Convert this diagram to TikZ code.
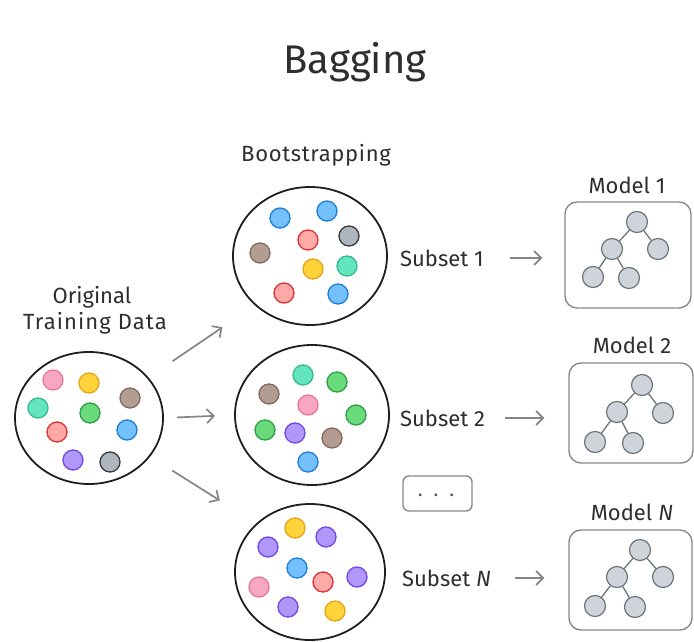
\documentclass[tikz,border=0pt]{standalone}
\usepackage{fontspec}
\setmainfont{Fira Sans}
\usetikzlibrary{shapes.geometric,arrows.meta}

% dot palette: fill / outline
\definecolor{pkF}{HTML}{F7A8C0}\definecolor{pkD}{HTML}{E57899}
\definecolor{ylF}{HTML}{FFD43B}\definecolor{ylD}{HTML}{E8A317}
\definecolor{brF}{HTML}{B39C91}\definecolor{brD}{HTML}{846A5E}
\definecolor{tlF}{HTML}{63E6BE}\definecolor{tlD}{HTML}{38B88E}
\definecolor{gnF}{HTML}{69DB7C}\definecolor{gnD}{HTML}{2F9E44}
\definecolor{rdF}{HTML}{FFA8A8}\definecolor{rdD}{HTML}{E03131}
\definecolor{blF}{HTML}{74C0FC}\definecolor{blD}{HTML}{1C7ED6}
\definecolor{ppF}{HTML}{B197FC}\definecolor{ppD}{HTML}{7048E8}
\definecolor{gyF}{HTML}{ADB5BD}\definecolor{gyD}{HTML}{343A40}
\definecolor{ink}{HTML}{2E2E2E}
\definecolor{treeF}{HTML}{CED4DA}\definecolor{treeD}{HTML}{6E757C}
\definecolor{boxD}{HTML}{8A8A8A}
\definecolor{arrD}{HTML}{858585}

\tikzset{
  lbl/.style={text=ink, font=\fontsize{22}{25}\selectfont, inner sep=0pt},
  pool/.style={ellipse, draw=black!88, line width=1.8pt, inner sep=0pt, outer sep=0pt},
  dot/.style={circle, minimum size=20pt, inner sep=0pt, line width=1.3pt},
  pk/.style={dot, fill=pkF, draw=pkD}, yl/.style={dot, fill=ylF, draw=ylD},
  br/.style={dot, fill=brF, draw=brD}, tl/.style={dot, fill=tlF, draw=tlD},
  gn/.style={dot, fill=gnF, draw=gnD}, rd/.style={dot, fill=rdF, draw=rdD},
  bl/.style={dot, fill=blF, draw=blD}, pp/.style={dot, fill=ppF, draw=ppD},
  gy/.style={dot, fill=gyF, draw=gyD},
  modelbox/.style={draw=boxD, line width=1.4pt, rounded corners=12pt, inner sep=0pt},
  tnode/.style={circle, minimum size=21pt, inner sep=0pt, fill=treeF, draw=treeD, line width=1.2pt},
  tedge/.style={draw=treeD, line width=1.3pt},
  arr/.style={draw=arrD, line width=1.7pt, -{Straight Barb[length=7pt,width=14pt]}},
}

\begin{document}
\begin{tikzpicture}[x=1pt,y=-1pt]
\useasboundingbox[fill=white] (0,0) rectangle (694,642);

% headings
\node[lbl, font=\fontsize{40}{44}\selectfont] (title) at (355,62) {Bagging};
\node[lbl, font=\fontsize{22}{25}\selectfont\addfontfeature{LetterSpace=3}] (boot) at (316,155) {Bootstrapping};
\node[lbl] (orig1) at (92,297) {Original};
\node[lbl, font=\fontsize{22}{25}\selectfont\addfontfeature{LetterSpace=5}] (orig2) at (95,323) {Training Data};

% original data pool
\node[pool, minimum width=148pt, minimum height=132pt] (orig) at (89,418) {};
\node[pk] (o1) at (53,380) {};
\node[yl] (o2) at (89,383) {};
\node[br] (o3) at (130,398) {};
\node[tl] (o4) at (38,408) {};
\node[gn] (o5) at (90,413) {};
\node[rd] (o6) at (57,432) {};
\node[bl] (o7) at (127,430) {};
\node[pp] (o8) at (73,460) {};
\node[gy] (o9) at (110,462) {};

% bootstrap subset 1
\node[pool, minimum width=154pt, minimum height=138pt] (sub1) at (310,256) {};
\node[bl] (a1) at (280,218) {};
\node[bl] (a2) at (327,211) {};
\node[rd] (a3) at (308,240) {};
\node[gy] (a4) at (349,236) {};
\node[br] (a5) at (260,253) {};
\node[yl] (a6) at (313,269) {};
\node[tl] (a7) at (347,266) {};
\node[rd] (a8) at (284,293) {};
\node[bl] (a9) at (338,294) {};

% bootstrap subset 2
\node[pool, minimum width=154pt, minimum height=140pt] (sub2) at (312,415) {};
\node[tl] (b1) at (303,375) {};
\node[gn] (b2) at (337,382) {};
\node[br] (b3) at (269,394) {};
\node[pk] (b4) at (308,405) {};
\node[gn] (b5) at (356,415) {};
\node[gn] (b6) at (265,430) {};
\node[pp] (b7) at (295,433) {};
\node[br] (b8) at (332,438) {};
\node[bl] (b9) at (308,462) {};

% bootstrap subset N
\node[pool, minimum width=150pt, minimum height=136pt] (subN) at (310,572) {};
\node[yl] (c1) at (295,528) {};
\node[pp] (c2) at (326,537) {};
\node[pp] (c3) at (268,547) {};
\node[bl] (c4) at (297,568) {};
\node[rd] (c5) at (323,582) {};
\node[pp] (c6) at (357,577) {};
\node[pk] (c7) at (259,587) {};
\node[pp] (c8) at (288,607) {};
\node[yl] (c9) at (335,611) {};

% sampling arrows
\draw[arr, shorten <=30pt, shorten >=40pt] (orig) -- (sub1.south west);
\draw[arr, shorten <=14pt, shorten >=20pt] (orig.east) -- (sub2.west);
\draw[arr, shorten <=27pt, shorten >=44pt] (orig) -- (subN.north west);

% subset labels
\node[lbl, anchor=west] (s1) at (400,258) {Subset 1};
\node[lbl, anchor=west] (s2) at (400,418) {Subset 2};
\node[lbl, anchor=west] (sN) at (402,578) {Subset \textit{N}};

% ellipsis box
\node[modelbox, rounded corners=6pt, minimum width=69pt, minimum height=35pt] (more) at (437.5,493.5) {};
\node[lbl, text=black!65, font=\fontsize{20}{24}\selectfont] (moredots) at (436,495) {.\hspace{11pt}.\hspace{11pt}.};

% models
\node[modelbox, minimum width=126pt, minimum height=106pt] (m1) at (628,255) {};
\node[modelbox, minimum width=124pt, minimum height=100pt] (m2) at (631,413) {};
\node[modelbox, minimum width=123pt, minimum height=100pt] (mN) at (630.5,580) {};
\node[lbl] (m1t) at (627,185) {Model 1};
\node[lbl] (m2t) at (632,345) {Model 2};
\node[lbl] (mNt) at (632,512) {Model \textit{N}};

\draw[arr, shorten <=26pt, shorten >=22pt] (s1.east) -- (s1.east -| m1.west);
\draw[arr, shorten <=20pt, shorten >=24pt] (s2.east) -- (s2.east -| m2.west);
\draw[arr, shorten <=24pt, shorten >=24pt] (sN.east) -- (sN.east -| mN.west);

% decision trees
\foreach \m/\rx/\ry/\lx/\ly/\qx/\qy/\ax/\ay/\bx/\by in
  {1/637/222/612/249/658/249/593/277/629/278,
   2/642/385/617/412/663/413/595/442/633/443,
   N/640/550/617/577/663/577/595/606/635/607}{
  \node[tnode] (troot\m) at (\rx,\ry) {};
  \node[tnode] (tmid\m) at (\lx,\ly) {};
  \node[tnode] (tright\m) at (\qx,\qy) {};
  \node[tnode] (tleafa\m) at (\ax,\ay) {};
  \node[tnode] (tleafb\m) at (\bx,\by) {};
  \draw[tedge] (troot\m) -- (tmid\m);
  \draw[tedge] (troot\m) -- (tright\m);
  \draw[tedge] (tmid\m) -- (tleafa\m);
  \draw[tedge] (tmid\m) -- (tleafb\m);
}
\end{tikzpicture}
\end{document}
